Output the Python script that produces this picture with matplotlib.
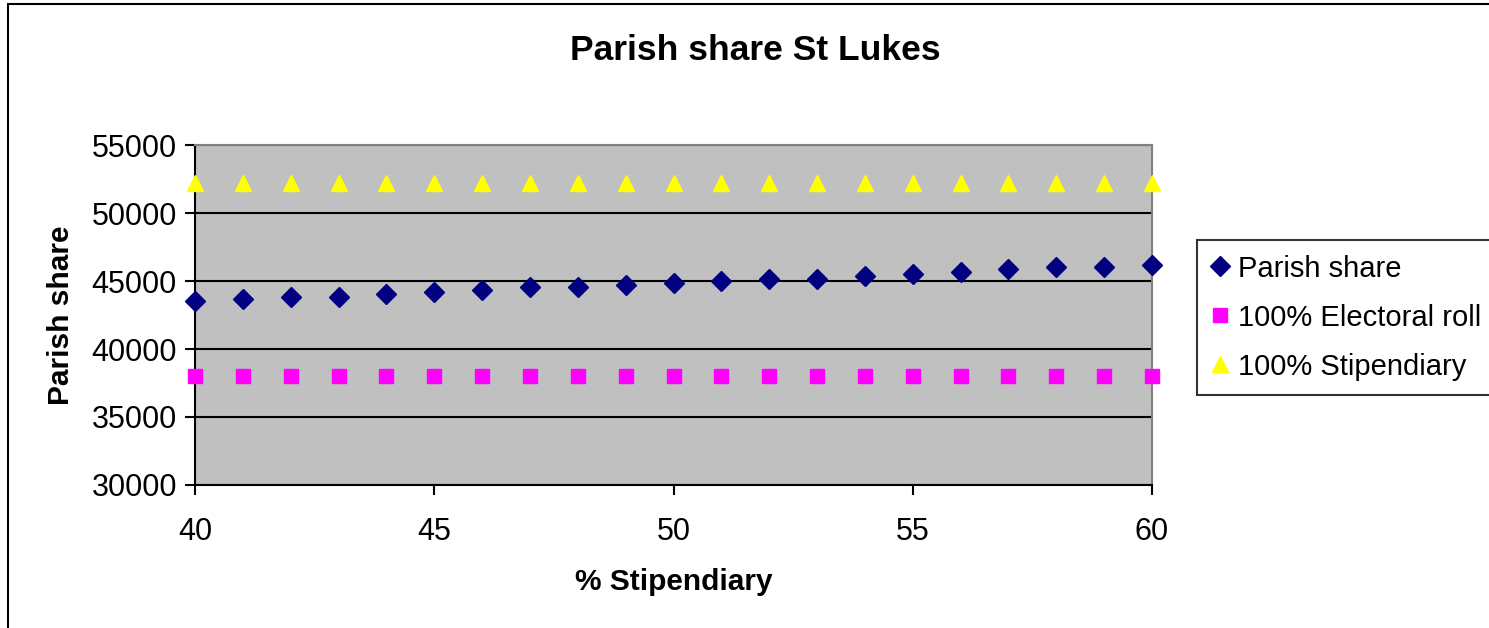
import matplotlib
matplotlib.use('Agg')
import matplotlib.pyplot as plt
from matplotlib.patches import Rectangle

plt.rcParams['font.family'] = ['Liberation Sans', 'DejaVu Sans']

# data
stipendiary_pct = list(range(40, 61))
parish_share = [43500, 43650, 43850, 43850, 44050, 44200, 44350, 44550, 44550, 44700,
                44850, 45000, 45150, 45150, 45350, 45500, 45650, 45850, 46000, 46000, 46200]
electoral_roll = [38000] * len(stipendiary_pct)
full_stipendiary = [52200] * len(stipendiary_pct)

W, H = 1489, 628
fig = plt.figure(figsize=(W / 100, H / 100), dpi=100)
fig.patch.set_facecolor('white')

# outer chart border (cropped on right/bottom like the reference)
fig.patches.append(Rectangle((8 / W, -0.05), 1.1, 1 - 4 / H + 0.05,
                             transform=fig.transFigure, fill=False,
                             edgecolor='black', linewidth=1.5))

ax = fig.add_axes([195 / W, (H - 485) / H, (1152 - 195) / W, (485 - 145) / H])
ax.set_facecolor('#C0C0C0')

ax.plot(stipendiary_pct, parish_share, linestyle='none', marker='D', markersize=10,
        color='#000080', label='Parish share', clip_on=False, zorder=3)
ax.plot(stipendiary_pct, electoral_roll, linestyle='none', marker='s', markersize=9.5,
        color='#FF00FF', label='100% Electoral roll', clip_on=False, zorder=3)
ax.plot(stipendiary_pct, full_stipendiary, linestyle='none', marker='^', markersize=12,
        color='#FFFF00', label='100% Stipendiary', clip_on=False, zorder=3)

ax.set_xlim(40, 60)
ax.set_ylim(30000, 55000)
ax.set_xticks(range(40, 61, 5))
ax.set_yticks(range(30000, 55001, 5000))
ax.grid(True, axis='y', color='black', linewidth=1.5)
ax.set_axisbelow(True)

for side in ('left', 'bottom'):
    ax.spines[side].set_color('black')
    ax.spines[side].set_linewidth(1.5)
for side in ('top', 'right'):
    ax.spines[side].set_color('#808080')
    ax.spines[side].set_linewidth(1.5)

ax.tick_params(axis='y', direction='out', length=7, width=1.5, labelsize=22, pad=6)
ax.tick_params(axis='x', direction='out', length=7, width=1.5, labelsize=22, pad=16)

ax.set_xlabel('% Stipendiary', fontsize=21.5, fontweight='bold', labelpad=15)
ax.set_ylabel('Parish share', fontsize=21.5, fontweight='bold', labelpad=12)

fig.text(755 / W, 1 - 50 / H, 'Parish share St Lukes', ha='center', va='center',
         fontsize=25.5, fontweight='bold')

leg = fig.legend(loc='upper left', bbox_to_anchor=(1197 / W, 1 - 240 / H),
                 fontsize=21, frameon=True, fancybox=False, handlelength=0.6,
                 handletextpad=0.3, borderpad=0.5, labelspacing=0.72, borderaxespad=0)
leg.get_frame().set_edgecolor('black')
leg.get_frame().set_linewidth(1.5)

fig.savefig('out.png', dpi=100, facecolor='white')
